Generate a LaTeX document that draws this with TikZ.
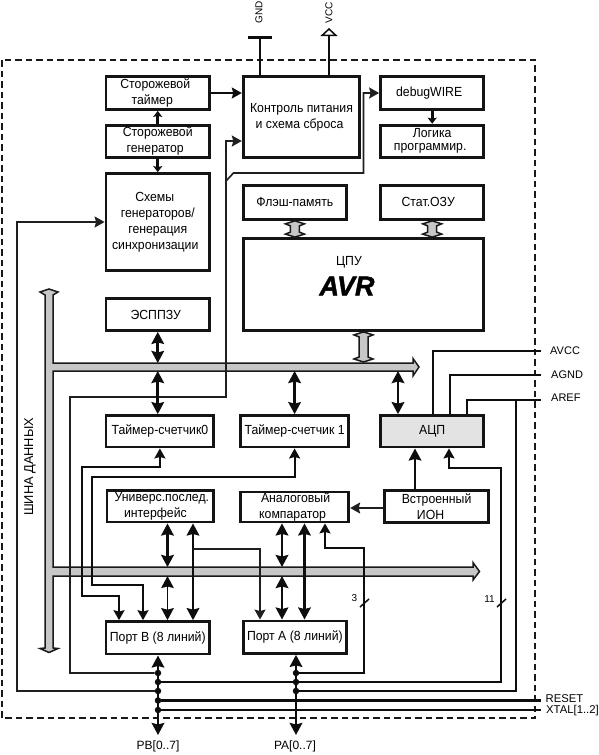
\documentclass[tikz,border=0pt]{standalone}
\usepackage{fontspec}
\setmainfont{Liberation Sans}
\newfontfamily\avrf[FakeBold=1.6]{Liberation Sans Bold Italic}
\newfontfamily\narrowf[FakeStretch=0.93]{Liberation Sans}
\usetikzlibrary{arrows.meta,calc}
\tikzset{
  box/.style={draw=black!92,line width=2.8pt,align=center,inner sep=0pt,font=\narrowf\fontsize{13.2}{16}\selectfont},
  pin/.style={inner sep=0pt,font=\fontsize{11}{13}\selectfont},
  busfill/.style={draw=black!90,fill=black!22,line width=1.5pt,line join=miter},
  thinl/.style={draw=black!88,line width=1.6pt},
  blackl/.style={draw=black!95,line width=1.8pt},
  heavy/.style={draw=black!95,line width=2.8pt},
  tipS/.tip={Stealth[length=10pt,width=11pt,inset=1.5pt]},
  tipL/.tip={Stealth[length=12pt,width=12.5pt,inset=1.5pt]},
  tipM/.tip={Stealth[length=6pt,width=9pt,inset=1pt]},
  dotn/.style={circle,fill=black!95,inner sep=0pt,minimum size=6.5pt},
  slash/.style={draw=black!95,line width=1.5pt},
}
\newcommand{\blockarrow}[2]{%
  \filldraw[busfill] let \p1=#1,\p2=#2 in
    (\x1,\y1) -- ({\x1+9.5pt},{\y1-3pt}) -- ({\x1+4.5pt},{\y1-5pt}) -- ({\x1+4.5pt},{\y2+5pt})
    -- ({\x1+9.5pt},{\y2+3pt}) -- (\x1,\y2) -- ({\x1-9.5pt},{\y2+3pt}) -- ({\x1-4.5pt},{\y2+5pt})
    -- ({\x1-4.5pt},{\y1-5pt}) -- ({\x1-9.5pt},{\y1-3pt}) -- cycle;}
\begin{document}
\begin{tikzpicture}[x=1pt,y=-1pt]
\useasboundingbox (0,0) rectangle (599,755);
\draw[black!90,line width=1.6pt,dash pattern=on 6.5pt off 4pt] (2,60) rectangle (535,718);

% data bus
\coordinate (b1t) at (0,363);
\coordinate (b1b) at (0,371);
\coordinate (b2t) at (0,567);
\coordinate (b2b) at (0,576);
\filldraw[busfill] (49,289) -- (58,292) -- (53,295) -- (53,363) -- (413,363) -- (413,358.5) -- (419,367)
  -- (413,376) -- (413,371) -- (53,371) -- (53,567) -- (473,567) -- (473,562.5) -- (479.5,571.5)
  -- (473,580) -- (473,576) -- (53,576) -- (53,648) -- (58,648.5) -- (49,652.5) -- (40,648.5) -- (45,648)
  -- (45,295) -- (40,292) -- cycle;
\node[rotate=90,inner sep=0pt,font=\fontsize{12.8}{15}\selectfont] (busl) at (30,467) {ШИНА ДАННЫХ};

% boxes
\node[box,minimum width=103.5pt,minimum height=33pt] (wdt) at (157.75,93) {Сторожевой\hspace*{5pt}\\таймер\hspace*{11pt}};
\node[box,minimum width=103.5pt,minimum height=32.3pt] (wdg) at (157.75,141.3) {Сторожевой\\генератор\hspace*{5pt}};
\node[box,minimum width=103.5pt,minimum height=97pt] (clk) at (157.75,222) {Схемы\hspace*{6pt}\\генераторов/\\генерация\\синхронизации\hspace*{5pt}};
\node[box,minimum width=116.6pt,minimum height=81pt] (pwr) at (301.5,117) {Контроль питания\\и схема сброса\hspace*{4pt}};
\node[box,minimum width=103.3pt,minimum height=33pt] (dbg) at (432.2,93) {debugWIRE\hspace*{6pt}};
\node[box,minimum width=103.3pt,minimum height=32.3pt] (prg) at (432.2,141.3) {Логика\\[-3pt]программир.\hspace*{4pt}};
\node[box,minimum width=103.3pt,minimum height=34.3pt] (fls) at (294.9,202.3) {Флэш-память};
\node[box,minimum width=103.3pt,minimum height=34.3pt] (ram) at (432.2,202.3) {Стат.ОЗУ\hspace*{8pt}};
\node[box,minimum width=240.6pt,minimum height=92pt] (cpu) at (363.5,284.5) {};
\node[inner sep=0pt,font=\narrowf\fontsize{13.2}{16}\selectfont] (cpul) at (349,262) {ЦПУ};
\node[inner sep=0pt,font=\fontsize{27}{28}\selectfont\avrf] (avr) at (347,286) {AVR};
\node[box,minimum width=103.5pt,minimum height=32pt] (eep) at (157.75,314.5) {ЭСППЗУ\hspace*{4pt}};
\node[box,minimum width=107.8pt,minimum height=31.5pt] (tc0) at (159.9,431.3) {Таймер-счетчик0};
\node[box,minimum width=108.3pt,minimum height=31.5pt] (tc1) at (294.6,431.3) {Таймер-счетчик 1};
\node[box,fill=black!11,minimum width=103.3pt,minimum height=31.5pt] (adc) at (432.2,431.3) {АЦП};
\node[box,minimum width=106.8pt,minimum height=31.5pt] (usi) at (160.4,506.3) {Универс.послед.\hspace*{-3pt}\\интерфейс\hspace*{10pt}};
\node[box,minimum width=108.3pt,minimum height=30pt] (cmp) at (294.6,507) {Аналоговый\hspace*{-2pt}\\компаратор\hspace*{4pt}};
\node[box,minimum width=104.3pt,minimum height=32pt] (ion) at (436.6,506.5) {Встроенный\\ИОН\hspace*{12pt}};
\node[box,minimum width=103.5pt,minimum height=32.5pt] (prb) at (157.75,637.8) {Порт В (8 линий)};
\node[box,minimum width=103.3pt,minimum height=32.5pt] (pra) at (294.9,637.2) {Порт А (8 линий)};

% block arrows
\coordinate (cb) at (363.5,362);
\blockarrow{(fls.south)}{(fls.south |- cpu.north)}
\blockarrow{(ram.south)}{(ram.south |- cpu.north)}
\blockarrow{(cpu.south)}{(cb)}

% dots
\foreach \n/\y in {1/673,2/682,3/691,4/700.5,5/710}
  \node[dotn] (db\n) at (158,\y) {};
\foreach \n/\y in {1/673,2/682,3/691}
  \node[dotn] (da\n) at (296,\y) {};

% pin labels and ends
\coordinate (gndc) at (260,36);
\coordinate (vccc) at (329,28);
\node[rotate=90,inner sep=0pt,font=\fontsize{10}{12}\selectfont] (gndl) at (259,12.5) {GND};
\node[rotate=90,inner sep=0pt,font=\fontsize{10}{12}\selectfont] (vccl) at (329,13) {VCC};
\node[pin,anchor=west] (avccl) at (550,351) {AVCC};
\node[pin,anchor=west] (agndl) at (551,375) {AGND};
\node[pin,anchor=west] (arefl) at (551,398) {AREF};
\node[pin,anchor=west,font=\fontsize{11.3}{13}\selectfont] (rstl) at (545.5,698.5) {RESET};
\node[pin,anchor=west,font=\fontsize{11.3}{13}\selectfont] (xtl) at (546,711) {XTAL[1..2]};
\node[pin,font=\fontsize{12}{14}\selectfont] (pbl) at (158,746.5) {PB[0..7]};
\node[pin,font=\fontsize{12}{14}\selectfont] (pal) at (295,746.5) {PA[0..7]};
\node[pin,font=\fontsize{10}{12}\selectfont] (n3) at (354.5,598) {3};
\node[pin,font=\fontsize{10}{12}\selectfont] (n11) at (489.5,599) {11};

% power pins
\draw[heavy,-{Bar[width=24pt,line width=2.8pt]}] (gndc |- pwr.north) -- (gndc);
\draw[heavy,-{Triangle[open,length=8pt,width=17pt,line width=1.5pt]}] (vccc |- pwr.north) -- (vccc);

% upper connectors
\draw[blackl,-{tipS}] (wdt.east) -- (pwr.west |- wdt.east);
\draw[heavy,-{tipM}] (wdg.north) -- (wdt.south);
\draw[heavy,-{tipM}] (wdg.south) -- (clk.north);
\draw[heavy,-{tipM}] (dbg.south) -- (prg.north);
\coordinate (w1) at (70,397);
\coordinate (w2) at (226,397);
\coordinate (w3) at (226,181);
\coordinate (w4) at (233.5,173);
\coordinate (w5) at (363.5,173);
\coordinate (w6) at (226,141);
\draw[thinl,-{tipS}] (db1) -| (w1) -- (w2) -- (w3) -- (w4) -- (w5) |- (dbg.west);
\draw[thinl,-{tipS}] (w3) -- (w6) -- (w6 -| pwr.west);
\coordinate (c1) at (17,222);
\draw[thinl,-{tipS}] (db3) -| (c1) -- (clk.west);

% bus connections
\draw[heavy,{tipL}-{tipL}] (eep.south) -- (eep.south |- b1t);
\draw[heavy,{tipL}-{tipL}] (eep.south |- b1b) -- (eep.south |- tc0.north);
\draw[heavy,{tipL}-{tipL}] (tc1.north |- b1b) -- (tc1.north);
\coordinate (x398) at (398,0);
\draw[heavy,{tipL}-{tipL}] (x398 |- b1b) -- (x398 |- adc.north);

% timers inputs
\coordinate (t0a) at (82,467);
\coordinate (t0b) at (82,596);
\coordinate (t0c) at (119,596);
\draw[blackl,{tipS}-{tipS}] (tc0.south) |- (t0a) -- (t0b) -- (t0c) -- (t0c |- prb.north);
\coordinate (t1a) at (92,477);
\coordinate (t1b) at (92,585);
\coordinate (t1c) at (143,585);
\draw[blackl,{tipS}-{tipS}] (tc1.south) |- (t1a) -- (t1b) -- (t1c) -- (t1c |- prb.north);

% USI and comparator
\coordinate (x167) at (167.5,0);
\coordinate (x193) at (193,0);
\coordinate (x282) at (282,0);
\coordinate (x304) at (304.5,0);
\coordinate (x260) at (260,549);
\draw[heavy,{tipL}-{tipL}] (x167 |- usi.south) -- (x167 |- b2t);
\draw[blackl,{tipL}-{tipL}] (x167 |- b2b) -- (x167 |- prb.north);
\draw[heavy,{tipL}-{tipL}] (x193 |- usi.south) -- (x193 |- prb.north);
\draw[thinl,-{tipS}] (x193 |- x260) -- (x260) -- (x260 |- pra.north);
\draw[heavy,{tipL}-{tipL}] (x282 |- cmp.south) -- (x282 |- b2t);
\draw[heavy,{tipL}-{tipL}] (x282 |- b2b) -- (x282 |- pra.north);
\draw[heavy,{tipL}-{tipL}] (x304 |- cmp.south) -- (x304 |- pra.north);

% ION
\coordinate (x415) at (415,0);
\draw[heavy,-{tipL}] (x415 |- ion.north) -- (x415 |- adc.south);
\coordinate (y508) at (0,508);
\draw[thinl,-{tipS}] (ion.west |- y508) -- (cmp.east |- y508);

% analog inputs
\coordinate (a1) at (364,548);
\coordinate (a2) at (325,548);
\draw[blackl,-{tipS}] (da1) -| (a1) -- (a2) -- (a2 |- cmp.south);
\coordinate (b1) at (501,468);
\coordinate (b2) at (449,468);
\draw[blackl] (db2) -- (da2);
\draw[blackl,-{tipS}] (da2) -| (b1) -- (b2) -- (b2 |- adc.south);
\coordinate (r1) at (516,400);
\draw[blackl] (da3) -| (r1);
\draw[slash] (360,607) -- (369,599);
\draw[slash] (497,607) -- (506,599);

% analog pins
\coordinate (e1) at (541,351);
\coordinate (e2) at (541,375);
\coordinate (e3) at (541,400);
\coordinate (x433) at (433,0);
\coordinate (x450) at (450,0);
\coordinate (x467) at (467,0);
\draw[blackl] (x433 |- adc.north) |- (e1);
\draw[blackl] (x450 |- adc.north) |- (e2);
\draw[blackl] (x467 |- adc.north) |- (e3);

% reset / xtal
\coordinate (e4) at (541,700.5);
\coordinate (e5) at (541,710);
\draw[heavy] (db4) -- (e4);
\draw[blackl] (db5) -- (e5);

% ports down
\coordinate (pbe) at (158,735);
\coordinate (pae) at (296,735);
\draw[heavy,{tipL}-{tipL}] (pbe |- prb.south) -- (pbe);
\draw[heavy,{tipL}-{tipL}] (pae |- pra.south) -- (pae);
\end{tikzpicture}
\end{document}
